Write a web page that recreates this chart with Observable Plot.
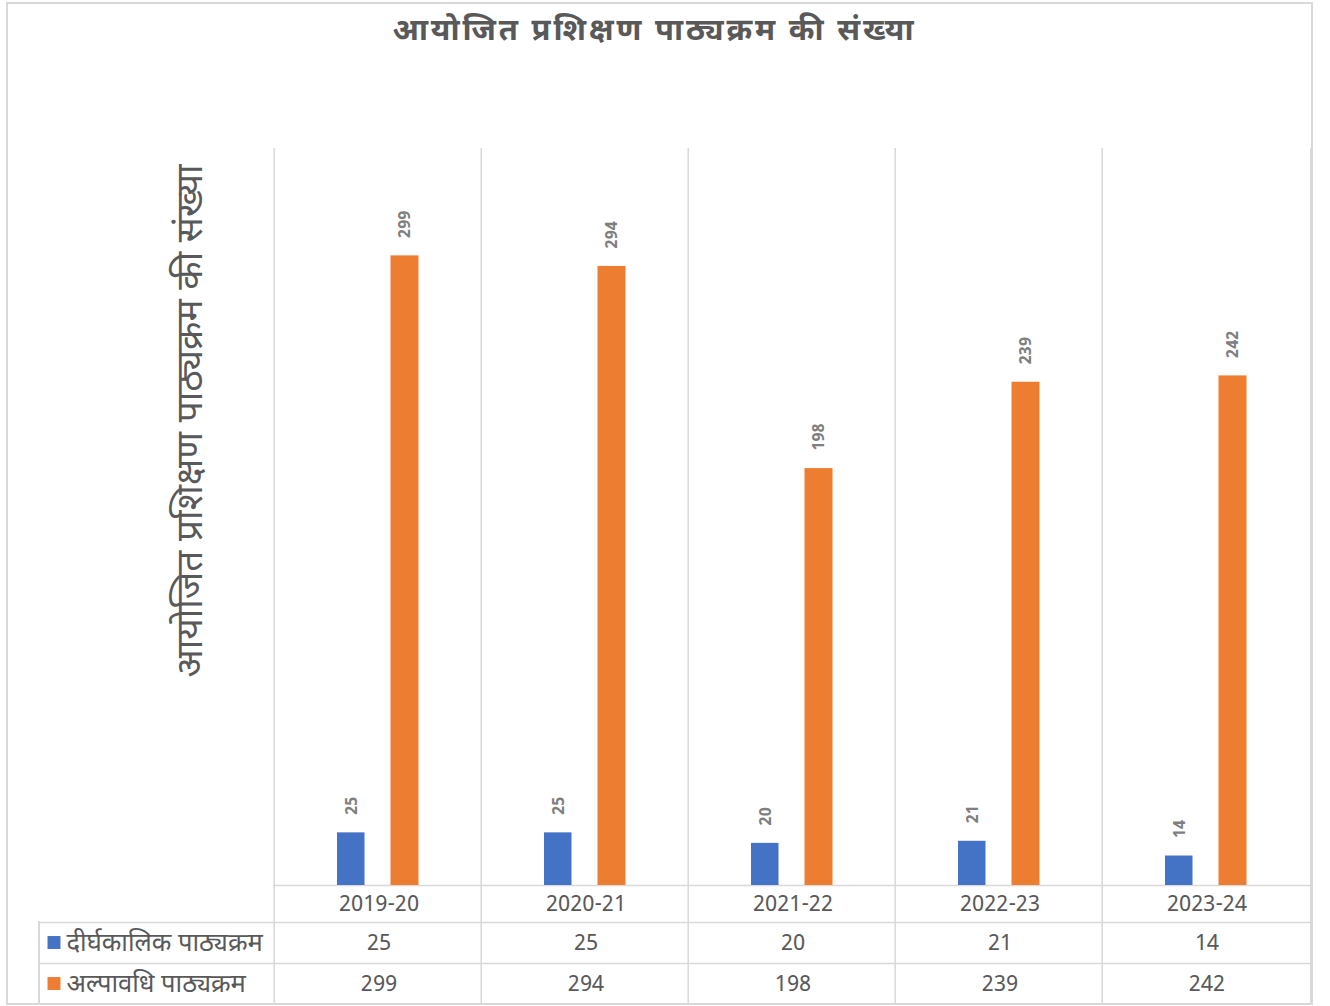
<!DOCTYPE html>
<html>
<head>
<meta charset="utf-8">
<script src="https://cdn.jsdelivr.net/npm/d3@7"></script>
<script src="https://cdn.jsdelivr.net/npm/@observablehq/plot@0.6"></script>
<style>
  body { margin: 0; background: #fff; }
  #wrap { position: relative; width: 1330px; height: 1006px; overflow: hidden; }
  #wrap svg { position: absolute; left: 0; top: 0; }
  .border { position: absolute; left: 6px; top: 2px; width: 1307px; height: 1003px; border: 2px solid #d9d9d9; box-sizing: border-box; pointer-events: none; }
  .tleft { position: absolute; left: 38px; top: 921px; width: 2px; height: 83px; background: #d9d9d9; }
</style>
</head>
<body>
<div id="wrap"><div class="border"></div><div class="tleft"></div></div>
<script>
const years = ["2019-20", "2020-21", "2021-22", "2022-23", "2023-24"];
const longTerm = [25, 25, 20, 21, 14];
const shortTerm = [299, 294, 198, 239, 242];
const seriesNames = ["दीर्घकालिक पाठ्यक्रम", "अल्पावधि पाठ्यक्रम"];
const seriesColors = ["#4472C4", "#ED7D31"];
const chartTitle = "आयोजित प्रशिक्षण पाठ्यक्रम की संख्या";
const yTitle = "आयोजित प्रशिक्षण पाठ्यक्रम की संख्या";

const FONT = "'Noto Sans Devanagari', 'Noto Sans', 'Lohit Devanagari', sans-serif";
const grid = "#d9d9d9";
const textCol = "#595959";

const longData = years.map((y, i) => ({year: y, value: longTerm[i]}));
const shortData = years.map((y, i) => ({year: y, value: shortTerm[i]}));

const W = 1330, H = 1006, mL = 273, mR = 19, mT = 148, mB = 121;
const band = (W - mL - mR) / years.length;

const chart = Plot.plot({
  width: W, height: H,
  marginLeft: mL, marginRight: mR, marginTop: mT, marginBottom: mB,
  style: {fontFamily: FONT, background: "transparent", overflow: "visible"},
  x: {domain: years, padding: 0, axis: null},
  y: {domain: [0, 350], axis: null},
  marks: [
    Plot.ruleX(years, {x: d => d, dx: -band / 2 - 1, stroke: grid, strokeWidth: 1.5, insetBottom: -119}),
    Plot.ruleX([years[years.length - 1]], {x: d => d, dx: band / 2, stroke: grid, strokeWidth: 1.5, insetBottom: -119}),
    Plot.ruleY([0], {stroke: grid, strokeWidth: 1.5}),
    Plot.ruleY([0], {stroke: grid, strokeWidth: 1.5, dy: 37, insetLeft: -234}),
    Plot.ruleY([0], {stroke: grid, strokeWidth: 1.5, dy: 78, insetLeft: -234}),
    Plot.barY(longData, {x: "year", y: "value", fill: seriesColors[0], insetLeft: 62, insetRight: 117.5}),
    Plot.barY(shortData, {x: "year", y: "value", fill: seriesColors[1], insetLeft: 115.5, insetRight: 63.5}),
    Plot.text(longData, {x: "year", y: "value", text: d => String(d.value), rotate: -90, textAnchor: "start", lineAnchor: "middle", dx: -27, dy: -18, fontSize: 16, fontWeight: "bold", fill: "#7f7f7f"}),
    Plot.text(shortData, {x: "year", y: "value", text: d => String(d.value), rotate: -90, textAnchor: "start", lineAnchor: "middle", dx: 26, dy: -18, fontSize: 16, fontWeight: "bold", fill: "#7f7f7f"}),
    Plot.text(years, {x: d => d, frameAnchor: "bottom", dy: 18.5, lineAnchor: "middle", fontSize: 22, fill: textCol}),
    Plot.text(longData, {x: "year", text: d => String(d.value), frameAnchor: "bottom", dy: 57.5, lineAnchor: "middle", fontSize: 22, fill: textCol}),
    Plot.text(shortData, {x: "year", text: d => String(d.value), frameAnchor: "bottom", dy: 98.5, lineAnchor: "middle", fontSize: 22, fill: textCol}),
    Plot.dot([0], {frameAnchor: "bottom-left", dx: -219.5, dy: 57, symbol: "square", r: 7.3, fill: seriesColors[0], stroke: null}),
    Plot.dot([0], {frameAnchor: "bottom-left", dx: -219.5, dy: 98, symbol: "square", r: 7.3, fill: seriesColors[1], stroke: null}),
    Plot.text([seriesNames[0]], {text: d => d, frameAnchor: "bottom-left", dx: -207, dy: 57, textAnchor: "start", lineAnchor: "middle", fontSize: 25.5, fill: textCol}),
    Plot.text([seriesNames[1]], {text: d => d, frameAnchor: "bottom-left", dx: -207, dy: 98, textAnchor: "start", lineAnchor: "middle", fontSize: 25.5, fill: textCol}),
    Plot.text([chartTitle], {text: d => d, frameAnchor: "top", textAnchor: "middle", dx: -138, dy: -118, lineAnchor: "middle", fontSize: 31, fontWeight: "bold", fill: textCol}),
    Plot.text([yTitle], {text: d => d, frameAnchor: "left", textAnchor: "middle", rotate: -90, dx: -83, dy: -96, lineAnchor: "middle", fontSize: 37, fill: textCol})
  ]
});
d3.select(chart).selectAll("g[font-weight='bold'] text").filter(function() { return this.textContent === chartTitle; }).attr("letter-spacing", 2.8);
document.getElementById("wrap").prepend(chart);
</script>
</body>
</html>
